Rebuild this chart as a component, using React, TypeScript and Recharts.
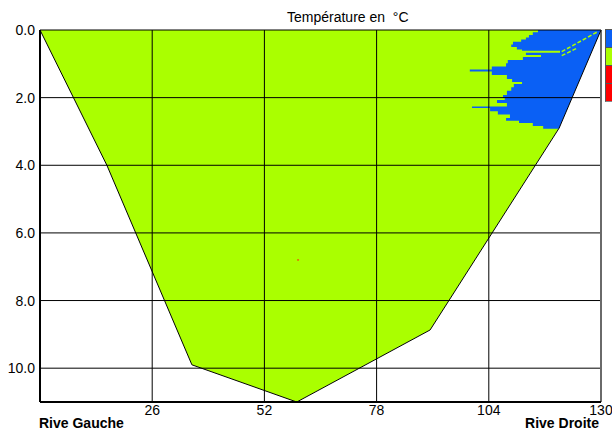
import React from 'react';
import {
  ComposedChart,
  Area,
  Line,
  Scatter,
  XAxis,
  YAxis,
  CartesianGrid,
  ReferenceLine,
} from 'recharts';

// River bed profile (distance from left bank in m, depth in m)
const bedX = [0, 15.5, 35.2, 59.5, 90.4, 120.3, 130];
const bedDepth = [0, 4.0, 9.9, 11.0, 8.87, 2.9, 0];

// Blue temperature zone: left edge (x) for each depth row, extends to right bank
const blueDepth = [
  0.0, 0.07, 0.15, 0.22, 0.28, 0.35, 0.43, 0.5, 0.58, 0.61, 0.67, 0.74, 0.8, 0.89,
  0.98, 1.08, 1.17, 1.23, 1.33, 1.45, 1.54, 1.6, 1.69, 1.8, 1.92, 2.01, 2.07, 2.16,
  2.26, 2.31, 2.4, 2.5, 2.6, 2.68, 2.75, 2.84, 2.92,
];
const blueLeftX = [
  115.4, 114.2, 113.3, 112.6, 111.5, 109.6, 109.2, 110.5, 111.7, 120.5, 112.6, 116.1,
  111.9, 108.4, 108.0, 104.7, 99.6, 104.7, 108.2, 109.4, 111.7, 109.8, 109.2, 108.2,
  107.3, 107.7, 105.9, 108.2, 100.1, 104.3, 106.1, 108.9, 108.0, 111.0, 114.2, 116.6,
  120.0,
];

// Thin green streaks inside the blue zone
const streak1X = [120.9, 129.1];
const streak1Depth = [0.64, 0.06];
const streak2X = [120.9, 124.4];
const streak2Depth = [0.76, 0.54];

// Isolated red point
const dotX = [59.8];
const dotDepth = [6.8];

const xTicks = [26, 52, 78, 104, 130];
const yTicks = [0, 2, 4, 6, 8, 10];
const xDomain = [0, 130];
const yDomain = [0, 11];

const legendColors = ['#0a60f5', '#aaff00', '#ff0000', '#ff0000'];

const GREEN = '#aaff00';
const BLUE = '#0a60f5';
const FONT = '"Liberation Sans", Arial, sans-serif';

const W = 612;
const H = 432;
const plotMargin = { top: 30, right: 11, bottom: 30, left: 40 };

const bedData = bedX.map((x, i) => ({ x, d: bedDepth[i] }));
const blueData = blueDepth.map((d, i) => ({ d, range: [blueLeftX[i], xDomain[1]] }));
const maskData = bedX
  .map((x, i) => ({ x, d: bedDepth[i] }))
  .filter((p) => p.x >= 59.5)
  .reverse()
  .map((p) => ({ d: p.d, range: [p.x, xDomain[1]] }));
const streak1 = streak1X.map((x, i) => ({ x, d: streak1Depth[i] }));
const streak2 = streak2X.map((x, i) => ({ x, d: streak2Depth[i] }));
const dotData = dotX.map((x, i) => ({ x, d: dotDepth[i] }));

const layer: React.CSSProperties = { position: 'absolute', top: 0, left: 0 };

const DotShape = (props: any) => (
  <rect x={props.cx - 1} y={props.cy - 0.5} width={2} height={1} fill="#ff2000" />
);

export default function App() {
  return (
    <div
      style={{
        position: 'absolute',
        top: 0,
        left: 0,
        width: W,
        height: H,
        background: '#fff',
        overflow: 'hidden',
        fontFamily: FONT,
      }}
    >
      {/* Green river section */}
      <div style={layer}>
        <ComposedChart width={W} height={H} data={bedData} margin={plotMargin}>
          <XAxis type="number" dataKey="x" domain={xDomain} hide />
          <YAxis type="number" dataKey="d" domain={yDomain} reversed hide />
          <Area
            type="linear"
            dataKey="d"
            baseValue={0}
            fill={GREEN}
            fillOpacity={1}
            stroke="none"
            isAnimationActive={false}
          />
        </ComposedChart>
      </div>
      {/* Blue zone (vertical layout: depth runs top to bottom) */}
      <div style={layer}>
        <ComposedChart layout="vertical" width={W} height={H} data={blueData} margin={plotMargin}>
          <XAxis type="number" domain={xDomain} hide />
          <YAxis type="number" dataKey="d" domain={yDomain} hide />
          <Area
            type="stepBefore"
            dataKey="range"
            fill={BLUE}
            fillOpacity={1}
            stroke="none"
            isAnimationActive={false}
          />
        </ComposedChart>
      </div>
      {/* Mask outside the right bank */}
      <div style={layer}>
        <ComposedChart layout="vertical" width={W} height={H} data={maskData} margin={plotMargin}>
          <XAxis type="number" domain={xDomain} hide />
          <YAxis type="number" dataKey="d" domain={yDomain} hide />
          <Area
            type="linear"
            dataKey="range"
            fill="#ffffff"
            fillOpacity={1}
            stroke="none"
            isAnimationActive={false}
          />
        </ComposedChart>
      </div>
      {/* Grid, axes, outline */}
      <div style={layer}>
        <ComposedChart
          width={W}
          height={H}
          data={bedData}
          margin={{ top: 30, right: 11, bottom: 0, left: 0 }}
        >
          <CartesianGrid stroke="#000" strokeWidth={1} fill="none" />
          <XAxis
            type="number"
            dataKey="x"
            domain={xDomain}
            ticks={xTicks}
            height={30}
            tickLine={false}
            tickSize={0}
            tickMargin={3}
            axisLine={{ stroke: '#000', strokeWidth: 2 }}
            tick={{ fill: '#000', fontSize: 14, fontFamily: FONT }}
          />
          <YAxis
            type="number"
            dataKey="d"
            domain={yDomain}
            reversed
            ticks={yTicks}
            width={40}
            tickLine={false}
            tickSize={0}
            tickMargin={5}
            tickFormatter={(v: number) => v.toFixed(1)}
            axisLine={{ stroke: '#000', strokeWidth: 2 }}
            tick={{ fill: '#000', fontSize: 14, fontFamily: FONT }}
          />
          <ReferenceLine x={xDomain[1]} stroke="#6a6a6a" strokeWidth={2} />
          <Line
            data={streak1}
            dataKey="d"
            type="linear"
            stroke={GREEN}
            strokeWidth={1.5}
            strokeDasharray="4 2"
            dot={false}
            activeDot={false}
            isAnimationActive={false}
          />
          <Line
            data={streak2}
            dataKey="d"
            type="linear"
            stroke={GREEN}
            strokeWidth={1.5}
            strokeDasharray="4 2"
            dot={false}
            activeDot={false}
            isAnimationActive={false}
          />
          <Line
            dataKey="d"
            type="linear"
            stroke="#000"
            strokeWidth={1}
            dot={false}
            activeDot={false}
            isAnimationActive={false}
          />
          <Scatter data={dotData} dataKey="d" shape={DotShape} isAnimationActive={false} />
        </ComposedChart>
      </div>
      {/* Title */}
      <div
        style={{
          position: 'absolute',
          left: 287,
          top: 9,
          fontSize: 14,
          whiteSpace: 'pre',
          color: '#000',
          lineHeight: '16px',
        }}
      >
        {'Température en  °C'}
      </div>
      {/* Bank labels */}
      <div
        style={{
          position: 'absolute',
          left: 39,
          top: 417,
          fontSize: 14,
          fontWeight: 'bold',
          color: '#000',
          lineHeight: '12px',
        }}
      >
        Rive Gauche
      </div>
      <div
        style={{
          position: 'absolute',
          right: 13,
          top: 417,
          fontSize: 14,
          fontWeight: 'bold',
          color: '#000',
          lineHeight: '12px',
        }}
      >
        Rive Droite
      </div>
      {/* Legend (cut off at right edge) */}
      <div
        style={{
          position: 'absolute',
          left: 605,
          top: 29,
          width: 10,
          borderLeft: '1px solid #555',
          borderTop: '1px solid #555',
          borderBottom: '1px solid #888',
        }}
      >
        {legendColors.map((c, i) => (
          <div
            key={i}
            style={{
              height: 17,
              background: c,
              borderTop: i > 0 ? '1px solid #555' : 'none',
            }}
          />
        ))}
      </div>
    </div>
  );
}
